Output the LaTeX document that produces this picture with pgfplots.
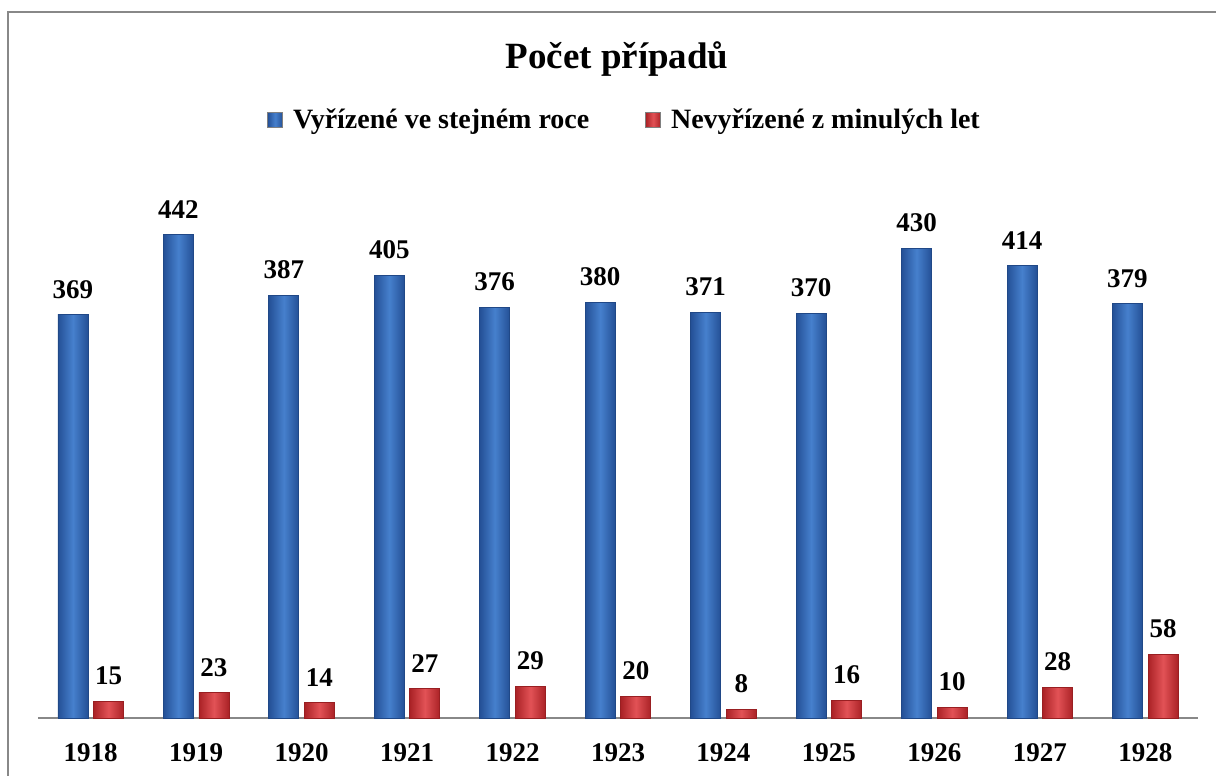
\documentclass[border=0pt]{standalone}
\usepackage{fontspec}
\setmainfont{Liberation Serif}
\usepackage{pgfplots}
\pgfplotsset{compat=1.18}
\definecolor{blueE}{RGB}{36,80,150}
\definecolor{blueM}{RGB}{70,128,205}
\definecolor{redE}{RGB}{170,34,38}
\definecolor{redM}{RGB}{226,82,86}
\definecolor{frameG}{RGB}{136,136,136}
\pgfplotsset{
  blueBar/.style={bar shift=-8.9pt, draw=blueE!90!black, line width=0.4pt, left color=blueE, right color=blueE, middle color=blueM, forget plot},
  redBar/.style={bar shift=8.9pt, draw=redE!90!black, line width=0.4pt, left color=redE, right color=redE, middle color=redM, forget plot},
}
\newcommand\bb[2]{\addplot[blueBar] coordinates {(#1,#2)};}
\newcommand\rb[2]{\addplot[redBar] coordinates {(#1,#2)};}
\begin{document}
\begin{tikzpicture}
\useasboundingbox (0,0) rectangle (608pt,388pt);
\draw[frameG, line width=0.9pt] (4pt,-10pt) rectangle (620pt,382pt);
\node[font=\fontsize{18.5}{21}\selectfont\bfseries] at (308.5pt,358.3pt) {Počet případů};
\begin{axis}[
  at={(19pt,29pt)}, anchor=south west,
  scale only axis, width=580pt, height=273.25pt,
  xmin=-0.5, xmax=10.5, ymin=0, ymax=500,
  axis x line*=bottom, axis y line=none,
  x axis line style={frameG, line width=0.8pt, -},
  xtick={0,...,10},
  xticklabels={1918,1919,1920,1921,1922,1923,1924,1925,1926,1927,1928},
  major tick length=0pt,
  /pgf/number format/assume math mode=true,
  xticklabel style={font=\fontsize{13.5}{14}\selectfont\bfseries, anchor=north, inner sep=0pt, yshift=-12.5pt},
  ybar, bar width=15pt,
  nodes near coords,
  every node near coord/.append style={font=\fontsize{13.5}{14}\selectfont\bfseries, anchor=south, inner sep=0pt, yshift=8pt, black},
  legend columns=2,
  legend style={draw=none, at={(0.5065,1.094)}, anchor=center, font=\fontsize{14}{15}\selectfont\bfseries,
    /tikz/every odd column/.append style={column sep=3pt},
    /tikz/every even column/.append style={column sep=26pt}},
  clip=false,
]
\bb{0}{369}\bb{1}{442}\bb{2}{387}\bb{3}{405}\bb{4}{376}\bb{5}{380}\bb{6}{371}\bb{7}{370}\bb{8}{430}\bb{9}{414}\bb{10}{379}
\rb{0}{15}\rb{1}{23}\rb{2}{14}\rb{3}{27}\rb{4}{29}\rb{5}{20}\rb{6}{8}\rb{7}{16}\rb{8}{10}\rb{9}{28}\rb{10}{58}
\addlegendimage{legend image code/.code={\draw[draw=gray, left color=blueE, right color=blueE, middle color=blueM] (0pt,-3.75pt) rectangle (7.5pt,3.75pt);}}
\addlegendentry{Vyřízené ve stejném roce}
\addlegendimage{legend image code/.code={\draw[draw=gray, left color=redE, right color=redE, middle color=redM] (0pt,-3.75pt) rectangle (7.5pt,3.75pt);}}
\addlegendentry{Nevyřízené z minulých let}
\end{axis}
\end{tikzpicture}
\end{document}
